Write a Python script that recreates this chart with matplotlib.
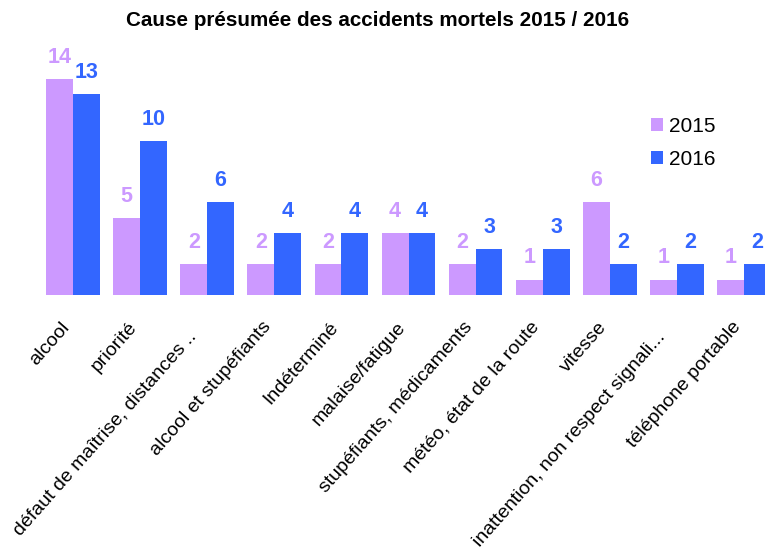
import matplotlib
matplotlib.use("Agg")
import matplotlib.pyplot as plt
from matplotlib.transforms import ScaledTranslation
import numpy as np

categories = ["alcool", "priorité", "défaut de maîtrise, distances ..", "alcool et stupéfiants",
              "Indéterminé", "malaise/fatigue", "stupéfiants, médicaments",
              "météo, état de la route", "vitesse", "inattention, non respect signali...",
              "téléphone portable"]
v2015 = [14, 5, 2, 2, 2, 4, 2, 1, 6, 1, 1]
v2016 = [13, 10, 6, 4, 4, 4, 3, 3, 2, 2, 2]
series_names = ["2015", "2016"]
colors = ["#CC99FF", "#3366FF"]

plt.rcParams['font.family'] = ['Liberation Sans', 'DejaVu Sans']
W, H = 765, 557
fig = plt.figure(figsize=(W/100, H/100), dpi=100)
left_px, right_px = 39.5, 767.5
base_px, top_px = 295, 48
ax = fig.add_axes([left_px/W, (H-base_px)/H, (right_px-left_px)/W, (base_px-top_px)/H])

x = np.arange(len(categories))
w = 0.4
b1 = ax.bar(x - w/2, v2015, w, color=colors[0], label=series_names[0])
b2 = ax.bar(x + w/2, v2016, w, color=colors[1], label=series_names[1])
for bars, c in ((b1, colors[0]), (b2, colors[1])):
    for r in bars:
        ax.annotate(f"{int(r.get_height())}", (r.get_x() + r.get_width()/2, r.get_height()),
                    xytext=(0, 8), textcoords="offset points", ha="center", va="bottom",
                    fontsize=15.5, fontweight="bold", color=c)

ax.set_xlim(-0.5, 10.35)
ax.set_ylim(0, 16)
ax.set_xticks(x)
ax.set_xticklabels(categories, rotation=48.5, ha="right", va="center", rotation_mode="anchor", fontsize=14)
ax.tick_params(axis="x", length=0, pad=21)
for lbl in ax.get_xticklabels():
    dx, dy = -6, 0
    if lbl.get_text().endswith(".."):
        dx, dy = -14, -10
    lbl.set_transform(lbl.get_transform() + ScaledTranslation(dx/100, dy/100, fig.dpi_scale_trans))
ax.set_yticks([])
for s in ax.spines.values():
    s.set_visible(False)

fs_leg = 15
ax.legend(loc="upper left",
          bbox_to_anchor=((651 - left_px)/(right_px-left_px), 1 - (117-top_px)/(base_px-top_px)),
          frameon=False, fontsize=fs_leg, handlelength=0.58, handleheight=0.58, handletextpad=0.3,
          labelspacing=0.68, borderaxespad=0, borderpad=0)

fig.text(378/W, 1 - 20/H, "Cause présumée des accidents mortels 2015 / 2016", ha="center", va="center",
         fontsize=14.9, fontweight="bold")
fig.savefig("out.png", dpi=100)
